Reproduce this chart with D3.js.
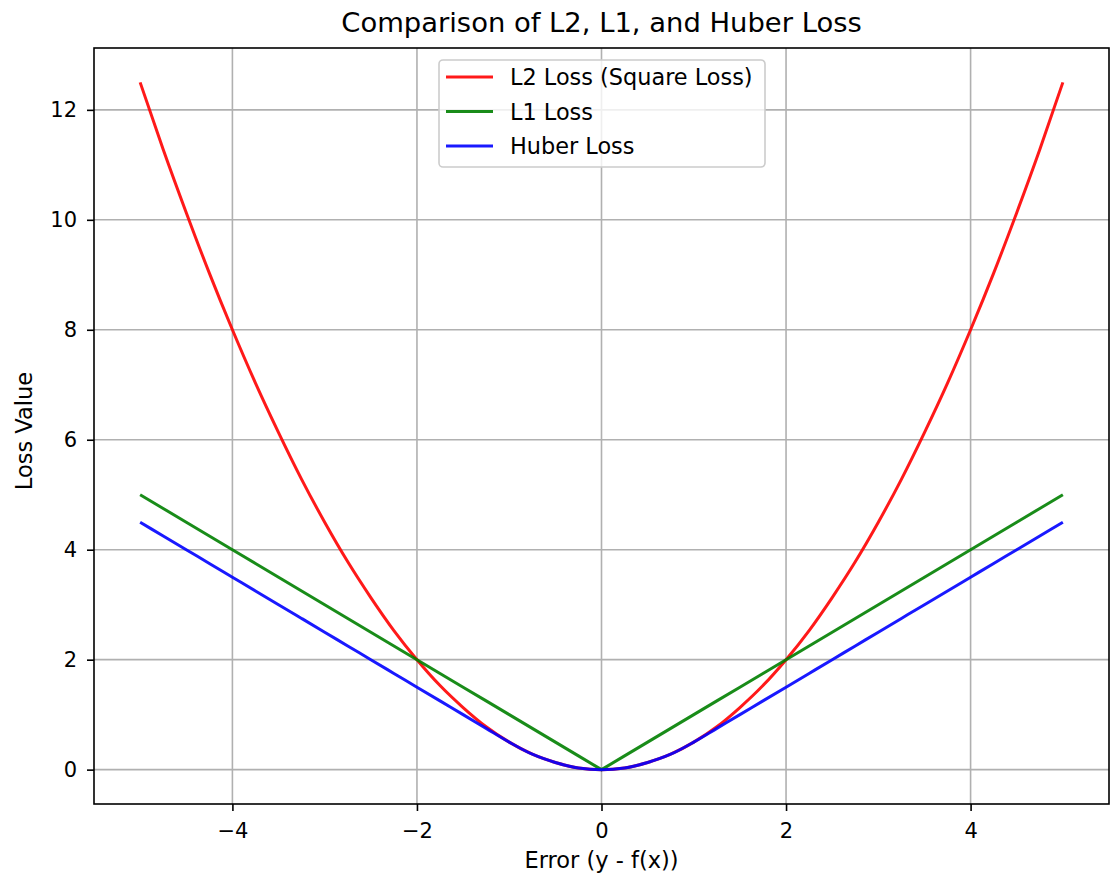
<!DOCTYPE html>
<html>
<head>
<meta charset="utf-8">
<script src="https://cdn.jsdelivr.net/npm/d3@7"></script>
<style>
  html, body { margin: 0; padding: 0; background: #fff; }
  svg { display: block; font-family: "DejaVu Sans", sans-serif; }
</style>
</head>
<body>
<svg id="chart" width="1111" height="876"></svg>
<script>
const errorValues = [-5, -4.75, -4.5, -4.25, -4, -3.75, -3.5, -3.25, -3, -2.75, -2.5, -2.25, -2, -1.75, -1.5, -1.25, -1, -0.75, -0.5, -0.25, 0,
  0.25, 0.5, 0.75, 1, 1.25, 1.5, 1.75, 2, 2.25, 2.5, 2.75, 3, 3.25, 3.5, 3.75, 4, 4.25, 4.5, 4.75, 5];
const l2Values = [12.5, 11.28, 10.13, 9.03, 8, 7.03, 6.13, 5.28, 4.5, 3.78, 3.13, 2.53, 2, 1.53, 1.13, 0.78, 0.5, 0.28, 0.13, 0.03, 0,
  0.03, 0.13, 0.28, 0.5, 0.78, 1.13, 1.53, 2, 2.53, 3.13, 3.78, 4.5, 5.28, 6.13, 7.03, 8, 9.03, 10.13, 11.28, 12.5];
const l1Values = [5, 4.75, 4.5, 4.25, 4, 3.75, 3.5, 3.25, 3, 2.75, 2.5, 2.25, 2, 1.75, 1.5, 1.25, 1, 0.75, 0.5, 0.25, 0,
  0.25, 0.5, 0.75, 1, 1.25, 1.5, 1.75, 2, 2.25, 2.5, 2.75, 3, 3.25, 3.5, 3.75, 4, 4.25, 4.5, 4.75, 5];
const huberValues = [4.5, 4.25, 4, 3.75, 3.5, 3.25, 3, 2.75, 2.5, 2.25, 2, 1.75, 1.5, 1.25, 1, 0.75, 0.5, 0.28, 0.13, 0.03, 0,
  0.03, 0.13, 0.28, 0.5, 0.75, 1, 1.25, 1.5, 1.75, 2, 2.25, 2.5, 2.75, 3, 3.25, 3.5, 3.75, 4, 4.25, 4.5];
const seriesNames = ["L2 Loss (Square Loss)", "L1 Loss", "Huber Loss"];
const seriesColors = ["#ff0000", "#008000", "#0000ff"];
const xTicks = [-4, -2, 0, 2, 4];
const yTicks = [0, 2, 4, 6, 8, 10, 12];
const titleText = "Comparison of L2, L1, and Huber Loss";
const xLabelText = "Error (y - f(x))";
const yLabelText = "Loss Value";

const svg = d3.select("#chart");
const m = { left: 94, right: 1109, top: 48, bottom: 804 };
const x = d3.scaleLinear().domain([-5.5, 5.5]).range([m.left, m.right]);
const y = d3.scaleLinear().domain([-0.625, 13.125]).range([m.bottom, m.top]);
const tickFs = 21, labelFs = 22.5, legendFs = 22.4, titleFs = 27.4;

// grid
const grid = svg.append("g");
xTicks.forEach(t => grid.append("line").attr("x1", x(t)).attr("x2", x(t)).attr("y1", m.top).attr("y2", m.bottom)
  .attr("stroke", "#b0b0b0").attr("stroke-width", 1.6));
yTicks.forEach(t => grid.append("line").attr("y1", y(t)).attr("y2", y(t)).attr("x1", m.left).attr("x2", m.right)
  .attr("stroke", "#b0b0b0").attr("stroke-width", 1.6));

// lines
const seriesData = [l2Values, l1Values, huberValues];
const curves = [d3.curveMonotoneX, d3.curveLinear, d3.curveMonotoneX];
seriesData.forEach((vals, i) => {
  const line = d3.line().x(d => x(d[0])).y(d => y(d[1])).curve(curves[i]);
  svg.append("path").datum(errorValues.map((e, j) => [e, vals[j]]))
    .attr("d", line).attr("fill", "none").attr("stroke", seriesColors[i])
    .attr("stroke-width", 3).attr("stroke-opacity", 0.9);
});

// axes
const xAxis = d3.axisBottom(x).tickValues(xTicks).tickSize(7).tickPadding(12)
  .tickFormat(d => d < 0 ? "\u2212" + Math.abs(d) : String(d));
const yAxis = d3.axisLeft(y).tickValues(yTicks).tickSize(7).tickPadding(10);
const gx = svg.append("g").attr("transform", `translate(0,${m.bottom})`).call(xAxis);
const gy = svg.append("g").attr("transform", `translate(${m.left},0)`).call(yAxis);
[gx, gy].forEach(g => {
  g.select(".domain").remove();
  g.selectAll("line").attr("stroke", "#000").attr("stroke-width", 1.6);
  g.selectAll("text").attr("font-size", tickFs).attr("fill", "#000").attr("font-family", "DejaVu Sans");
});
gx.selectAll("text").attr("dy", null).attr("y", 0).attr("transform", "translate(0,34)");

// frame
svg.append("rect").attr("x", m.left).attr("y", m.top).attr("width", m.right - m.left).attr("height", m.bottom - m.top)
  .attr("fill", "none").attr("stroke", "#000").attr("stroke-width", 1.6);

// title & labels
svg.append("text").attr("x", (m.left + m.right) / 2).attr("y", 32).attr("text-anchor", "middle")
  .attr("font-size", titleFs).attr("fill", "#000").text(titleText);
svg.append("text").attr("x", (m.left + m.right) / 2).attr("y", 868).attr("text-anchor", "middle")
  .attr("font-size", labelFs).attr("fill", "#000").text(xLabelText);
svg.append("text").attr("transform", `translate(32,431) rotate(-90)`).attr("text-anchor", "middle")
  .attr("font-size", labelFs).attr("fill", "#000").text(yLabelText);

// legend
const lg = svg.append("g");
lg.append("rect").attr("x", 439).attr("y", 60).attr("width", 326).attr("height", 107).attr("rx", 4)
  .attr("fill", "#fff").attr("fill-opacity", 0.8).attr("stroke", "#cccccc").attr("stroke-width", 1.6);
seriesNames.forEach((name, i) => {
  const yy = 77 + i * 34.5;
  lg.append("line").attr("x1", 446).attr("x2", 493).attr("y1", yy).attr("y2", yy)
    .attr("stroke", seriesColors[i]).attr("stroke-width", 3).attr("stroke-opacity", 0.9);
  lg.append("text").attr("x", 510).attr("y", yy + 8).attr("font-size", legendFs).attr("fill", "#000").text(name);
});
</script>
</body>
</html>
